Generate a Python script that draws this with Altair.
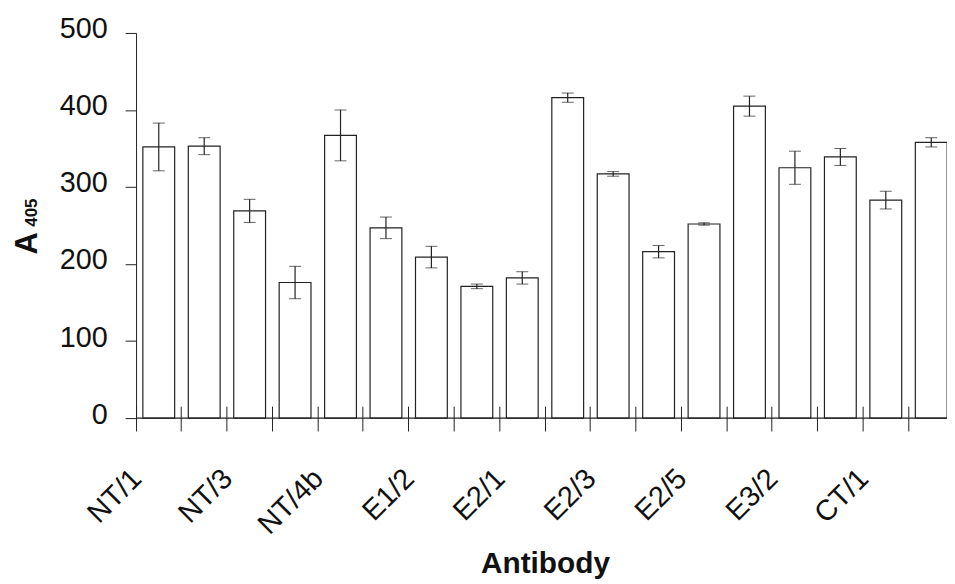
import altair as alt
import pandas as pd

FONT = "Liberation Sans"

# ---- data ----
labels = ["NT/1", "NT/3", "NT/4b", "E1/2", "E2/1", "E2/3", "E2/5", "E3/2", "CT/1"]
values = [352, 353, 269, 176, 367, 247, 209, 171, 182,
          416, 317, 216, 252, 405, 325, 339, 283, 358]
errors = [31, 11, 15, 21, 33, 14, 14, 3, 8,
          6, 3, 8, 1.5, 13, 21.5, 11, 11.5, 6]
y_ticks = [0, 100, 200, 300, 400, 500]
ytitle_main = ["A"]
ytitle_sub = ["405"]
xtitle = "Antibody"

# two bars per labelled antibody; only the first of each pair carries a label
bar_ids = [f"{lab}#{k}" for lab in labels for k in (1, 2)]

df = pd.DataFrame({"bar": bar_ids, "value": values, "err": errors})
df["lo"] = df["value"] - df["err"]
df["hi"] = df["value"] + df["err"]

INK = "#222222"

x_axis = alt.Axis(
    bandPosition=0, tickSize=25, offset=-12, domain=False, tickColor=INK,
    labelAngle=-45, labelAlign="right", labelBaseline="top", labelOffset=-32,
    labelPadding=33, labelFontSize=29, labelFont=FONT, labelColor="#111111",
    labelOverlap=False,
    labelExpr="indexof(datum.value, '#1') >= 0 ? split(datum.value, '#')[0] : ''",
    title=xtitle, titleFontSize=30, titleFont=FONT, titleFontWeight="bold",
    titleColor="#111111", titleBaseline="alphabetic", titleY=168,
)
x_enc = alt.X("bar:N", sort=bar_ids,
              scale=alt.Scale(paddingInner=0, paddingOuter=0, range=[0, 824]),
              axis=x_axis)

y_scale = alt.Scale(domain=[0, 500], nice=False)
y_axis = alt.Axis(values=y_ticks, tickSize=11, labelPadding=18, labelFontSize=29,
                  labelFont=FONT, labelColor="#111111", domainColor=INK,
                  tickColor=INK, grid=False, title=None, labelOffset=-4)

base = alt.Chart(df)

bars = base.mark_bar(fill="white", stroke=INK, strokeWidth=1.2,
                     width=alt.RelativeBandSize(0.7)).encode(
    x=x_enc, y=alt.Y("value:Q", scale=y_scale, axis=y_axis))

err_rule = base.mark_rule(stroke=INK, strokeWidth=1.2).encode(
    x=alt.X("bar:N", sort=bar_ids), y="lo:Q", y2="hi:Q")
cap_lo = base.mark_tick(size=12, thickness=1, color=INK).encode(
    x=alt.X("bar:N", sort=bar_ids), y="lo:Q")
cap_hi = base.mark_tick(size=12, thickness=1, color=INK).encode(
    x=alt.X("bar:N", sort=bar_ids), y="hi:Q")

zero_line = alt.Chart(pd.DataFrame({"z": [0]})).mark_rule(
    stroke=INK, strokeWidth=1.2).encode(y=alt.Y("z:Q"))

t_main = alt.Chart(pd.DataFrame({"t": ytitle_main})).mark_text(
    angle=270, align="center", baseline="alphabetic", fontSize=31,
    fontWeight="bold", font=FONT, color="#111111").encode(
    text="t:N", x=alt.value(-100), y=alt.value(212))
t_sub = alt.Chart(pd.DataFrame({"t": ytitle_sub})).mark_text(
    angle=270, align="center", baseline="alphabetic", fontSize=17,
    fontWeight="bold", font=FONT, color="#111111").encode(
    text="t:N", x=alt.value(-100), y=alt.value(181))

chart = alt.layer(bars, err_rule, cap_lo, cap_hi, zero_line, t_main, t_sub).properties(
    width=817, height=388,
    autosize=alt.AutoSizeParams(type="none"),
    padding={"left": 129, "top": 23, "right": 0, "bottom": 163},
).configure_view(stroke=None)

chart.save("out.html", embed_options={"renderer": "svg", "actions": False})
